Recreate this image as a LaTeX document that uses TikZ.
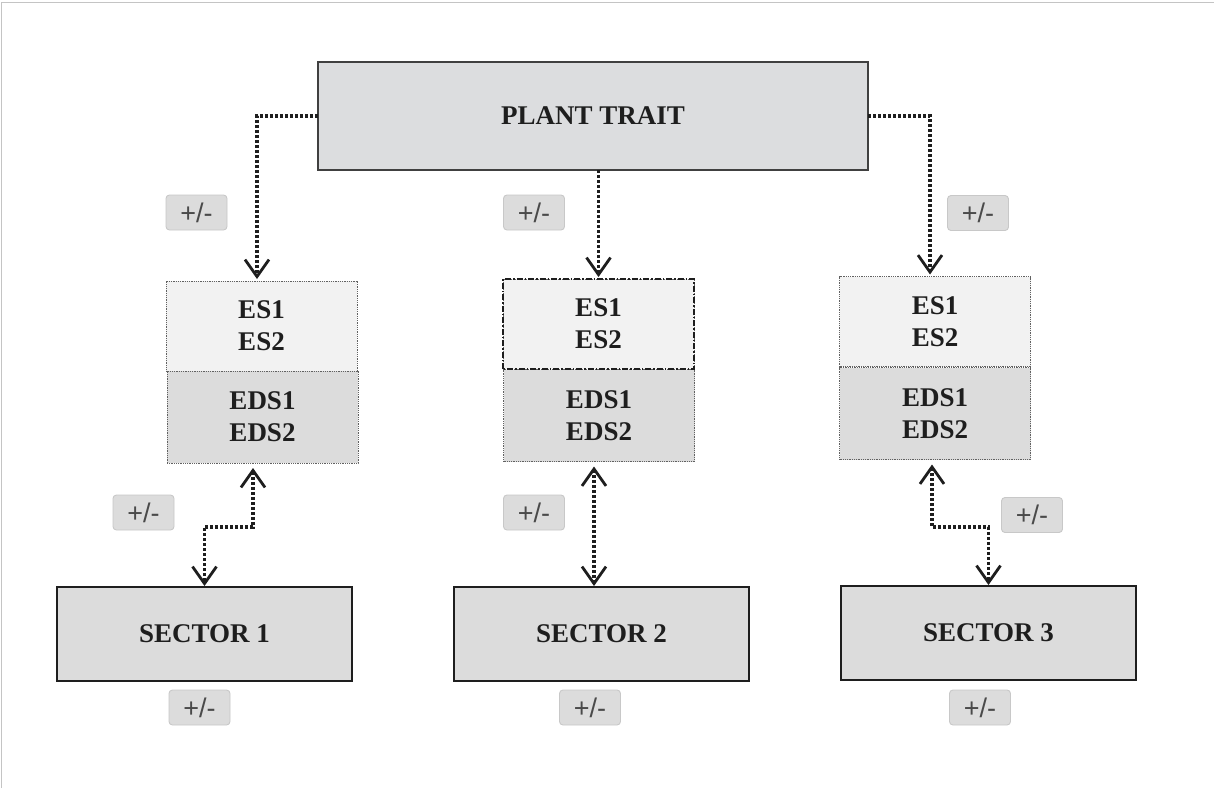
\documentclass[tikz,border=0pt]{standalone}
\usepackage{fontspec}
\setmainfont{Liberation Serif}
\newfontfamily\pmfont{Liberation Sans}
\usetikzlibrary{arrows.meta}

\definecolor{ink}{HTML}{1E1E1E}
\definecolor{boxgray}{HTML}{DCDDDF}
\definecolor{esfill}{HTML}{F2F2F2}
\definecolor{edsfill}{HTML}{DCDCDC}
\definecolor{badgefill}{HTML}{DCDCDC}
\definecolor{badgeline}{HTML}{C8C8C8}
\definecolor{badgetext}{HTML}{4A4A4A}
\definecolor{framegray}{HTML}{C4C4C4}

\tikzset{
  lbl/.style={font=\fontsize{27}{32}\selectfont\bfseries, text=ink, align=center},
  topbox/.style={lbl, draw=ink!85, line width=1.5pt, fill=boxgray, inner sep=0pt, outer sep=0pt,
    minimum width=550pt, minimum height=108pt},
  sectorbox/.style={lbl, draw=ink, line width=2.6pt, fill=edsfill, inner sep=0pt, outer sep=0pt,
    minimum width=295pt, minimum height=94pt},
  esbox/.style={lbl, draw=ink!70, line width=0.8pt, dash pattern=on 1pt off 0.8pt, fill=esfill,
    inner sep=0pt, outer sep=0pt, minimum width=191pt, minimum height=90pt},
  edsbox/.style={esbox, fill=edsfill, minimum height=92pt},
  esmark/.style={draw=ink, line width=1.6pt, dash pattern=on 6pt off 2pt on 1.5pt off 2pt},
  badge/.style={draw=badgeline, line width=0.9pt, fill=badgefill, rounded corners=3.5pt,
    minimum width=61pt, minimum height=35pt, inner sep=0pt, outer sep=0pt,
    font=\pmfont\fontsize{27}{27}\selectfont, text=badgetext},
  tip/.style={Straight Barb[length=17pt,width=24pt,line width=2.8pt]},
  link/.style={draw=ink, line width=3.3pt, dash pattern=on 3pt off 2pt,
    -{Straight Barb[length=17pt,width=24pt,line width=2.8pt]}, shorten >=2pt},
  twolink/.style={draw=ink, line width=3.3pt, dash pattern=on 3pt off 2pt,
    {Straight Barb[length=17pt,width=24pt,line width=2.8pt]}-{Straight Barb[length=17pt,width=24pt,line width=2.8pt]},
    shorten <=5pt, shorten >=1pt},
}

\begin{document}
\begin{tikzpicture}[x=1pt, y=-1pt]
\useasboundingbox (0,0) rectangle (1214,788);
\fill[white] (0,0) rectangle (1214,788);

% page edge lines
\draw[framegray, line width=1.6pt] (1.5,788) -- (1.5,2.6) -- (1214,2.6);

% main boxes
\node[topbox] (plant) at (593,116) {PLANT TRAIT};

\node[esbox]  (es1)  at (261.5,326) {ES1\\ES2};
\node[edsbox] (eds1) at (262.5,417) {EDS1\\EDS2};

\node[esbox]  (es2)  at (598.5,324) {ES1\\ES2};
\node[edsbox] (eds2) at (599,415.5) {EDS1\\EDS2};
\draw[esmark] (es2.south west) rectangle (es2.north east);

\node[esbox]  (es3)  at (935,321.5) {ES1\\ES2};
\node[edsbox] (eds3) at (935,413.5) {EDS1\\EDS2};

\node[sectorbox] (sec1) at (204.5,634) {SECTOR 1};
\node[sectorbox] (sec2) at (601.5,634) {SECTOR 2};
\node[sectorbox] (sec3) at (988.5,633) {SECTOR 3};

% sign badges
\node[badge] (b1) at (196.5,212.5) {+/-};
\node[badge] (b2) at (534,212.5) {+/-};
\node[badge] (b3) at (978,213) {+/-};
\node[badge] (b4) at (143.5,512.5) {+/-};
\node[badge] (b5) at (534,512.5) {+/-};
\node[badge] (b6) at (1032,515) {+/-};
\node[badge] (b7) at (199.5,707.5) {+/-};
\node[badge] (b8) at (590,707.5) {+/-};
\node[badge] (b9) at (980,707.5) {+/-};

% routing points
\coordinate (p1) at (257,0);
\coordinate (p3) at (930,0);
\coordinate (k1) at (253,527);
\coordinate (k2) at (594,0);
\coordinate (k3) at (932,527);

% trait to services
\draw[link] (plant.west) -| (es1.north -| p1);
\draw[link] (es2.north |- plant.south) -- (es2.north);
\draw[link] (plant.east) -| (es3.north -| p3);

% services to sectors
\draw[twolink] (eds1.south -| k1) -- (k1) -| (sec1.north);
\draw[twolink] (eds2.south -| k2) -- (sec2.north -| k2);
\draw[twolink] (eds3.south -| k3) -- (k3) -| (sec3.north);
\end{tikzpicture}
\end{document}
